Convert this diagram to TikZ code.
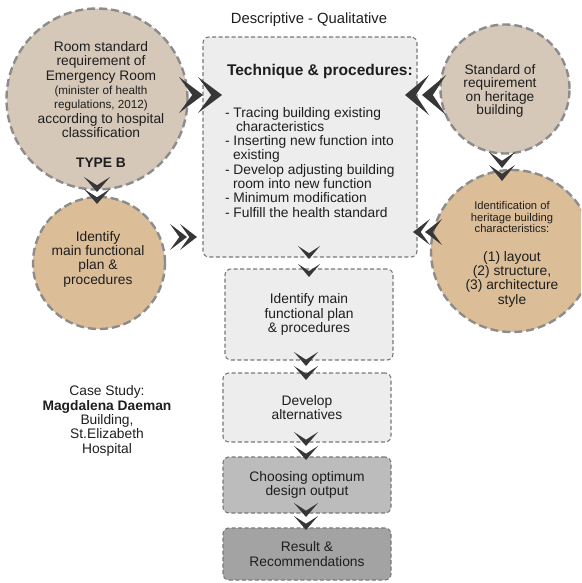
\documentclass[tikz,border=0pt]{standalone}
\usepackage{fontspec}
\setmainfont{Liberation Sans}
\definecolor{txt}{RGB}{30,30,30}
\definecolor{beige}{RGB}{214,200,184}
\definecolor{tanc}{RGB}{219,190,152}
\definecolor{cborder}{RGB}{140,140,140}
\definecolor{bborder}{RGB}{120,120,120}
\definecolor{lightbox}{RGB}{237,237,237}
\definecolor{midbox}{RGB}{188,188,188}
\definecolor{darkbox}{RGB}{163,163,163}
\definecolor{chevc}{RGB}{55,55,55}
\newcommand\smf{\fontsize{11.7}{14.3}\selectfont}
\newcommand\tnyf{\fontsize{11.2}{11.7}\selectfont}
\begin{document}
\begin{tikzpicture}[x=1pt,y=-1pt,
  every node/.style={text=txt, inner sep=0pt, outer sep=0pt},
  base/.style={font=\fontsize{13.8}{14.3}\selectfont, align=center},
  circ/.style={circle, draw=cborder, line width=2.4pt, dash pattern=on 8pt off 4pt},
  box/.style={rectangle, rounded corners=6pt, draw=bborder, line width=1.1pt, dash pattern=on 4pt off 2.5pt},
  pics/chev/.style 2 args={code={\fill[chevc] (-#1,#2) -- (0,0) -- (-#1,-#2) -- (-0.45*#1,0) -- cycle;}}
]
\useasboundingbox (0,0) rectangle (581,583);
\clip (0,0) rectangle (581,583);

% circles
\node[circ, fill=beige, minimum size=181pt] (c1) at (97,99) {};
\node[circ, fill=tanc, minimum size=132pt] (c2) at (99,263) {};
\node[circ, fill=beige, minimum size=129pt] (c3) at (505,89) {};
\node[circ, fill=tanc, minimum size=162pt] (c4) at (512,251) {};

% boxes
\node[box, fill=lightbox, minimum width=214pt, minimum height=220pt] (main) at (310,147) {};
\node[box, fill=lightbox, minimum width=168pt, minimum height=91pt, base] (b2) at (309,314.5) {Identify main\\functional plan\\\& procedures};
\node[box, fill=lightbox, minimum width=168pt, minimum height=69pt, base] (b3) at (307,407.5) {Develop\\alternatives};
\node[box, fill=midbox, minimum width=168pt, minimum height=56pt, base] (b4) at (307,485) {Choosing optimum\\design output};
\node[box, fill=darkbox, minimum width=168pt, minimum height=52pt, base] (b5) at (307,554) {Result \&\\Recommendations};

% texts
\node[font=\fontsize{14.8}{16}\selectfont] (t0) at (309,20) {Descriptive - Qualitative};
\node[base] (c1t) at (101,104.5) {Room standard\\requirement of\\Emergency Room\\{\smf (minister of health}\\{\smf regulations, 2012)}\\according to hospital\\classification\\[15.7pt]\textbf{TYPE B}};
\node[base] (c2t) at (98,259) {Identify\\main functional\\plan \&\\procedures};
\node[font=\fontsize{13.7}{13.5}\selectfont, align=center] (c3t) at (500,91) {Standard of\\requirement\\on heritage\\building};
\node[font=\tnyf, align=center] (c4a) at (512,217) {Identification of\\heritage building\\characteristics:};
\node[base] (c4b) at (512,279) {(1) layout\\(2) structure,\\(3) architecture\\style};
\node[font=\fontsize{15.5}{17}\selectfont\bfseries, anchor=west] (tech) at (227,71) {Technique \& procedures:};
\node[font=\fontsize{13.8}{14.3}\selectfont, align=left, anchor=north west] (list) at (225,107) {- Tracing building existing\\\hspace*{11pt}characteristics\\- Inserting new function into\\\hspace*{8pt}existing\\- Develop adjusting building\\\hspace*{8pt}room into new function\\- Minimum modification\\- Fulfill the health standard};
\node[base] (cs) at (107,421) {Case Study:\\\textbf{Magdalena Daeman}\\Building,\\St.Elizabeth\\Hospital};

% chevrons
\pic at (203,95) {chev={24}{18}};
\pic at (222,95) {chev={24}{18}};
\pic[rotate=180] at (405,95) {chev={24}{20}};
\pic[rotate=180] at (422,95) {chev={24}{20}};
\pic at (187,237) {chev={17}{13}};
\pic at (197,237) {chev={17}{13}};
\pic[rotate=180] at (413,232) {chev={17}{13}};
\pic[rotate=180] at (425,232) {chev={17}{13}};
\pic[rotate=-90] at (97,192) {chev={15}{13}};
\pic[rotate=-90] at (97,204) {chev={15}{13}};
\pic[rotate=-90] at (502,168) {chev={16}{13}};
\pic[rotate=-90] at (502,181) {chev={16}{13}};
\pic[rotate=-90] at (309,259) {chev={13}{11}};
\pic[rotate=-90] at (309,277) {chev={13}{11}};
\pic[rotate=-90] at (306,366) {chev={14}{12}};
\pic[rotate=-90] at (306,380) {chev={14}{12}};
\pic[rotate=-90] at (306,446) {chev={14}{12}};
\pic[rotate=-90] at (306,460) {chev={14}{12}};
\pic[rotate=-90] at (306,517) {chev={14}{12}};
\pic[rotate=-90] at (306,530) {chev={14}{12}};
\end{tikzpicture}
\end{document}
